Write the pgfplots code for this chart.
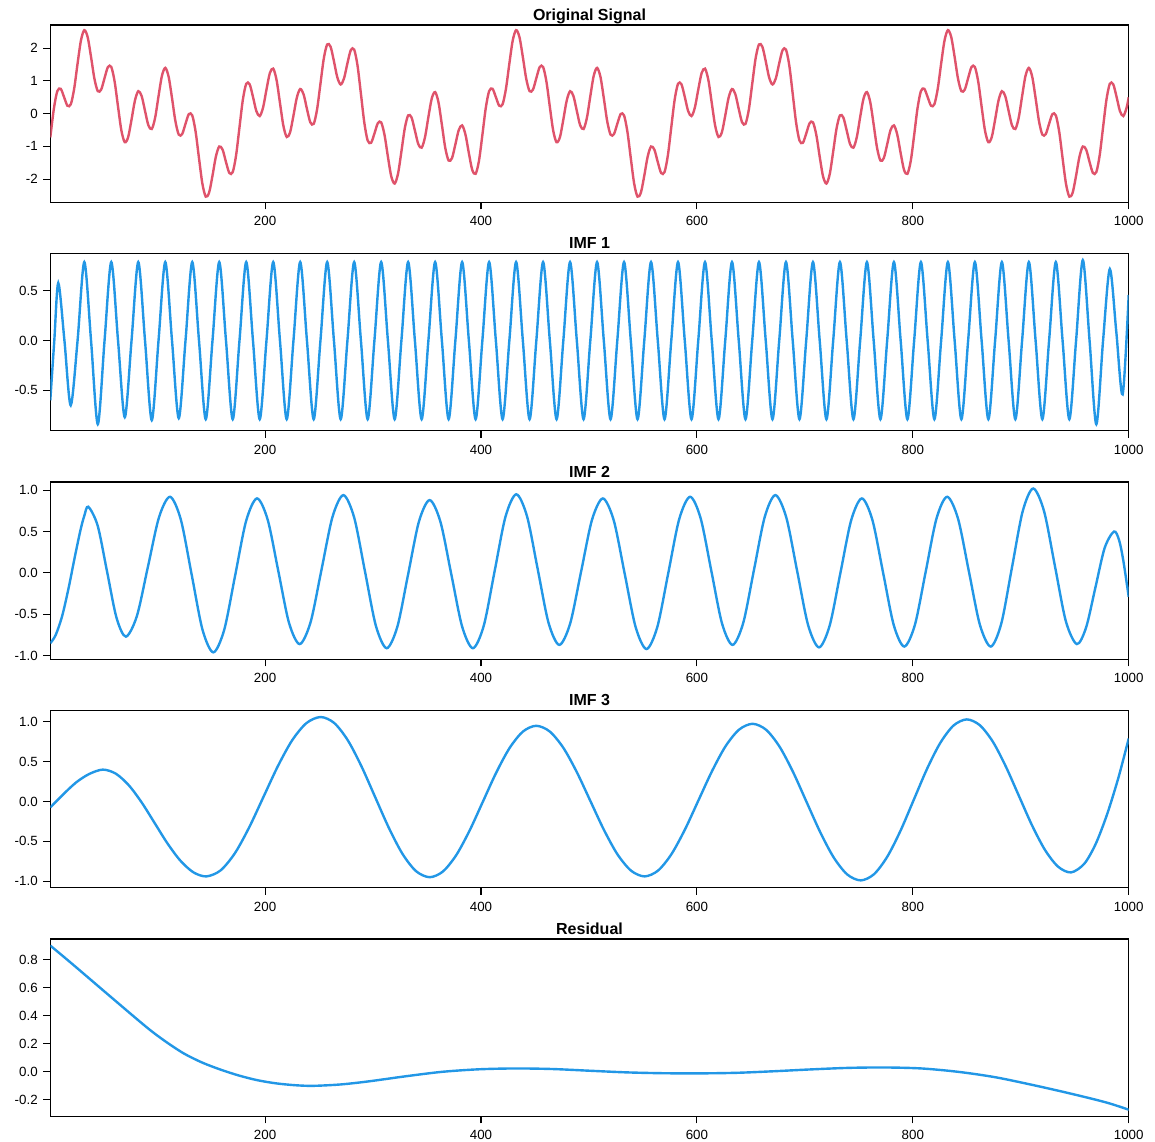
\documentclass[border=0pt]{standalone}
\usepackage{fontspec}
\setmainfont{Liberation Sans}
\usepackage{pgfplots}
\pgfplotsset{compat=1.18}
\definecolor{rred}{HTML}{DF536B}
\definecolor{rblue}{HTML}{2297E6}
\pgfplotsset{
  emd/.style={
    scale only axis, width=808.8pt, height=132.98pt,
    xmin=1, xmax=1000,
    axis line style={line width=0.8pt},
    every tick/.style={black, line width=0.8pt},
    major tick length=5.25pt,
    tick align=outside,
    xtick pos=bottom, ytick pos=left,
    xtick={200,400,600,800,1000},
    tick label style={font=\fontsize{10}{12}\selectfont, inner sep=0pt},
    xticklabel style={anchor=north, yshift=-5.25pt, /pgf/number format/set thousands separator={}},
    yticklabel style={anchor=east, xshift=-4pt},
    /pgf/number format/assume math mode=true,
    title style={font=\bfseries\fontsize{12}{14}\selectfont, at={(0.5,1)}, anchor=base, yshift=-2.5pt},
  },
  onedec/.style={yticklabel style={/pgf/number format/.cd, fixed, fixed zerofill, precision=1}},
}
\begin{document}
\begin{tikzpicture}
\path[use as bounding box] (0,0) rectangle (866.25pt,855.75pt);
% ---------------- Original Signal
\begin{axis}[emd, at={(37.725pt,704.0pt)}, ymin=-2.71, ymax=2.71, ytick={-2,-1,0,1,2}, title={Original Signal}]
\addplot[rred, line width=1.8pt, smooth, no markers] coordinates {
(1,-0.70) (1.25,-0.657) (4.375,0.167) (7.5,0.689) (10.625,0.762) (13.75,0.507) (16.875,0.243) (20,0.288) (23.125,0.765) (26.25,1.528) (29.375,2.236) (32.5,2.553) (35.625,2.339) (38.75,1.732) (41.875,1.069) (45,0.688) (48.125,0.735) (51.25,1.087) (54.375,1.425) (57.5,1.428) (60.625,0.975) (63.75,0.212) (66.875,-0.517) (70,-0.874) (73.125,-0.717) (76.25,-0.182) (79.375,0.398) (82.5,0.687) (85.625,0.539) (88.75,0.085) (91.875,-0.357) (95,-0.468) (98.125,-0.122) (101.25,0.532) (104.375,1.152) (107.5,1.399) (110.625,1.128) (113.75,0.477) (116.875,-0.225) (120,-0.640) (123.125,-0.626) (126.25,-0.310) (129.375,-0.012) (132.5,-0.053) (135.625,-0.553) (138.75,-1.362) (141.875,-2.138) (145,-2.536) (148.125,-2.411) (151.25,-1.895) (154.375,-1.315) (157.5,-1.004) (160.625,-1.102) (163.75,-1.479) (166.875,-1.814) (170,-1.785) (173.125,-1.270) (176.25,-0.418) (179.375,0.425) (182.5,0.913) (185.625,0.902) (188.75,0.515) (191.875,0.080) (195,-0.073) (198.125,0.189) (201.25,0.735) (204.375,1.239) (207.5,1.377) (210.625,1.026) (213.75,0.331) (216.875,-0.363) (220,-0.712) (223.125,-0.569) (226.25,-0.060) (229.375,0.490) (232.5,0.753) (235.625,0.593) (238.75,0.144) (241.875,-0.265) (245,-0.312) (248.125,0.129) (251.25,0.911) (254.375,1.689) (257.5,2.116) (260.625,2.047) (263.75,1.604) (266.875,1.111) (270,0.892) (273.125,1.081) (276.25,1.540) (279.375,1.942) (282.5,1.959) (285.625,1.465) (288.75,0.607) (291.875,-0.269) (295,-0.820) (298.125,-0.892) (301.25,-0.610) (304.375,-0.294) (307.5,-0.265) (310.625,-0.652) (313.75,-1.315) (316.875,-1.919) (320,-2.136) (323.125,-1.834) (326.25,-1.158) (329.375,-0.450) (332.5,-0.053) (335.625,-0.115) (338.75,-0.514) (341.875,-0.930) (345,-1.040) (348.125,-0.717) (351.25,-0.103) (354.375,0.465) (357.5,0.660) (360.625,0.344) (363.75,-0.337) (366.875,-1.044) (370,-1.433) (373.125,-1.358) (376.25,-0.940) (379.375,-0.501) (382.5,-0.359) (385.625,-0.642) (388.75,-1.207) (391.875,-1.718) (395,-1.839) (398.125,-1.439)
(401.25,-0.657) (404.375,0.167) (407.5,0.689) (410.625,0.762) (413.75,0.507) (416.875,0.243) (420,0.288) (423.125,0.765) (426.25,1.528) (429.375,2.236) (432.5,2.553) (435.625,2.339) (438.75,1.732) (441.875,1.069) (445,0.688) (448.125,0.735) (451.25,1.087) (454.375,1.425) (457.5,1.428) (460.625,0.975) (463.75,0.212) (466.875,-0.517) (470,-0.874) (473.125,-0.717) (476.25,-0.182) (479.375,0.398) (482.5,0.687) (485.625,0.539) (488.75,0.085) (491.875,-0.357) (495,-0.468) (498.125,-0.122) (501.25,0.532) (504.375,1.152) (507.5,1.399) (510.625,1.128) (513.75,0.477) (516.875,-0.225) (520,-0.640) (523.125,-0.626) (526.25,-0.310) (529.375,-0.012) (532.5,-0.053) (535.625,-0.553) (538.75,-1.362) (541.875,-2.138) (545,-2.536) (548.125,-2.411) (551.25,-1.895) (554.375,-1.315) (557.5,-1.004) (560.625,-1.102) (563.75,-1.479) (566.875,-1.814) (570,-1.785) (573.125,-1.270) (576.25,-0.418) (579.375,0.425) (582.5,0.913) (585.625,0.902) (588.75,0.515) (591.875,0.080) (595,-0.073) (598.125,0.189) (601.25,0.735) (604.375,1.239) (607.5,1.377) (610.625,1.026) (613.75,0.331) (616.875,-0.363) (620,-0.712) (623.125,-0.569) (626.25,-0.060) (629.375,0.490) (632.5,0.753) (635.625,0.593) (638.75,0.144) (641.875,-0.265) (645,-0.312) (648.125,0.129) (651.25,0.911) (654.375,1.689) (657.5,2.116) (660.625,2.047) (663.75,1.604) (666.875,1.111) (670,0.892) (673.125,1.081) (676.25,1.540) (679.375,1.942) (682.5,1.959) (685.625,1.465) (688.75,0.607) (691.875,-0.269) (695,-0.820) (698.125,-0.892) (701.25,-0.610) (704.375,-0.294) (707.5,-0.265) (710.625,-0.652) (713.75,-1.315) (716.875,-1.919) (720,-2.136) (723.125,-1.834) (726.25,-1.158) (729.375,-0.450) (732.5,-0.053) (735.625,-0.115) (738.75,-0.514) (741.875,-0.930) (745,-1.040) (748.125,-0.717) (751.25,-0.103) (754.375,0.465) (757.5,0.660) (760.625,0.344) (763.75,-0.337) (766.875,-1.044) (770,-1.433) (773.125,-1.358) (776.25,-0.940) (779.375,-0.501) (782.5,-0.359) (785.625,-0.642) (788.75,-1.207) (791.875,-1.718) (795,-1.839) (798.125,-1.439)
(801.25,-0.657) (804.375,0.167) (807.5,0.689) (810.625,0.762) (813.75,0.507) (816.875,0.243) (820,0.288) (823.125,0.765) (826.25,1.528) (829.375,2.236) (832.5,2.553) (835.625,2.339) (838.75,1.732) (841.875,1.069) (845,0.688) (848.125,0.735) (851.25,1.087) (854.375,1.425) (857.5,1.428) (860.625,0.975) (863.75,0.212) (866.875,-0.517) (870,-0.874) (873.125,-0.717) (876.25,-0.182) (879.375,0.398) (882.5,0.687) (885.625,0.539) (888.75,0.085) (891.875,-0.357) (895,-0.468) (898.125,-0.122) (901.25,0.532) (904.375,1.152) (907.5,1.399) (910.625,1.128) (913.75,0.477) (916.875,-0.225) (920,-0.640) (923.125,-0.626) (926.25,-0.310) (929.375,-0.012) (932.5,-0.053) (935.625,-0.553) (938.75,-1.362) (941.875,-2.138) (945,-2.536) (948.125,-2.411) (951.25,-1.895) (954.375,-1.315) (957.5,-1.004) (960.625,-1.102) (963.75,-1.479) (966.875,-1.814) (970,-1.785) (973.125,-1.270) (976.25,-0.418) (979.375,0.425) (982.5,0.913) (985.625,0.902) (988.75,0.515) (991.875,0.080) (995,-0.073) (998.125,0.189) (1000,0.50)
};
\end{axis}
% ---------------- IMF 1
\begin{axis}[emd, onedec, at={(37.725pt,532.65pt)}, ymin=-0.906, ymax=0.876, ytick={-0.5,0,0.5}, title={IMF 1}]
\addplot[rblue, line width=1.8pt, smooth, no markers] coordinates {
(1,-0.60) (4.7,0) (8.4,0.58) (14.1,0) (19.9,-0.65)
(26.25,0) (32.5,0.79) (38.75,0) (45,-0.84)
(51.25,0) (57.5,0.79) (63.75,0) (70,-0.77)
(76.25,0) (82.5,0.79) (88.75,0) (95,-0.80)
(101.25,0) (107.5,0.79) (113.75,0) (120,-0.78)
(126.25,0) (132.5,0.79) (138.75,0) (145,-0.79)
(151.25,0) (157.5,0.79) (163.75,0) (170,-0.79)
(176.25,0) (182.5,0.79) (188.75,0) (195,-0.79)
(201.25,0) (207.5,0.79) (213.75,0) (220,-0.79)
(226.25,0) (232.5,0.79) (238.75,0) (245,-0.79)
(251.25,0) (257.5,0.79) (263.75,0) (270,-0.79)
(276.25,0) (282.5,0.79) (288.75,0) (295,-0.79)
(301.25,0) (307.5,0.79) (313.75,0) (320,-0.79)
(326.25,0) (332.5,0.79) (338.75,0) (345,-0.79)
(351.25,0) (357.5,0.79) (363.75,0) (370,-0.79)
(376.25,0) (382.5,0.79) (388.75,0) (395,-0.79)
(401.25,0) (407.5,0.79) (413.75,0) (420,-0.79)
(426.25,0) (432.5,0.79) (438.75,0) (445,-0.79)
(451.25,0) (457.5,0.79) (463.75,0) (470,-0.79)
(476.25,0) (482.5,0.79) (488.75,0) (495,-0.79)
(501.25,0) (507.5,0.79) (513.75,0) (520,-0.79)
(526.25,0) (532.5,0.79) (538.75,0) (545,-0.79)
(551.25,0) (557.5,0.79) (563.75,0) (570,-0.79)
(576.25,0) (582.5,0.79) (588.75,0) (595,-0.79)
(601.25,0) (607.5,0.79) (613.75,0) (620,-0.79)
(626.25,0) (632.5,0.79) (638.75,0) (645,-0.79)
(651.25,0) (657.5,0.79) (663.75,0) (670,-0.79)
(676.25,0) (682.5,0.79) (688.75,0) (695,-0.79)
(701.25,0) (707.5,0.79) (713.75,0) (720,-0.79)
(726.25,0) (732.5,0.79) (738.75,0) (745,-0.79)
(751.25,0) (757.5,0.79) (763.75,0) (770,-0.79)
(776.25,0) (782.5,0.79) (788.75,0) (795,-0.79)
(801.25,0) (807.5,0.79) (813.75,0) (820,-0.79)
(826.25,0) (832.5,0.79) (838.75,0) (845,-0.79)
(851.25,0) (857.5,0.79) (863.75,0) (870,-0.79)
(876.25,0) (882.5,0.79) (888.75,0) (895,-0.79)
(901.25,0) (907.5,0.79) (913.75,0) (920,-0.79)
(926.25,0) (932.5,0.79) (938.75,0) (945,-0.79)
(951.25,0) (957.5,0.81) (963.75,0) (970,-0.84)
(976.25,0) (982.5,0.72) (988.5,0.09) (994.4,-0.54) (1000,0.46)
};
\end{axis}
% ---------------- IMF 2
\begin{axis}[emd, onedec, at={(37.725pt,361.28pt)}, ymin=-1.044, ymax=1.099, ytick={-1,-0.5,0,0.5,1}, title={IMF 2}]
\addplot[rblue, line width=1.8pt, smooth, no markers] coordinates {
(1,-0.85) (6,-0.75) (12,-0.52) (18,-0.18) (23.5,0.18) (29,0.52) (32.5,0.69) (36.2,0.80)
(44.9,0.570) (53.6,0.015) (62.3,-0.540) (71,-0.77)
(81.2,-0.522) (91.45,0.075) (101.7,0.672) (111.9,0.92)
(121.9,0.645) (131.95,-0.02) (141.97,-0.685) (152,-0.96)
(162.1,-0.688) (172.25,-0.03) (182.4,0.628) (192.5,0.90)
(202.4,0.642) (212.25,0.02) (222.1,-0.602) (232,-0.86)
(242.1,-0.596) (252.25,0.04) (262.4,0.676) (272.5,0.94)
(282.5,0.669) (292.55,0.015) (302.6,-0.639) (312.6,-0.91)
(322.55,-0.648) (332.5,-0.015) (342.45,0.618) (352.4,0.88)
(362.4,0.618) (372.45,-0.015) (382.5,-0.648) (392.5,-0.91)
(402.55,-0.638) (412.6,0.02) (422.65,0.678) (432.7,0.95)
(442.65,0.683) (452.6,0.04) (462.55,-0.603) (472.5,-0.87)
(482.6,-0.611) (492.7,0.015) (502.8,0.641) (512.9,0.90)
(523,0.633) (533.1,-0.01) (543.2,-0.653) (553.3,-0.92)
(563.4,-0.650) (573.5,0) (583.6,0.650) (593.7,0.92)
(603.5,0.658) (613.35,0.025) (623.2,-0.608) (633,-0.87)
(642.9,-0.605) (652.85,0.035) (662.8,0.675) (672.7,0.94)
(682.8,0.670) (692.9,0.02) (703,-0.630) (713.1,-0.90)
(723,-0.636) (732.95,0) (742.9,0.636) (752.8,0.90)
(762.6,0.638) (772.45,0.005) (782.3,-0.628) (792.1,-0.89)
(802,-0.625) (811.95,0.015) (821.9,0.655) (831.8,0.92)
(841.9,0.655) (852,0.015) (862.1,-0.625) (872.2,-0.89)
(882,-0.610) (891.85,0.065) (901.7,0.740) (911.5,1.02)
(921.6,0.745) (931.7,0.08) (941.8,-0.585) (951.9,-0.86)
(960.5,-0.661) (969.1,-0.18) (977.7,0.301) (986.3,0.50)
(991,0.40) (995,0.15) (1000,-0.29)
};
\end{axis}
% ---------------- IMF 3
\begin{axis}[emd, onedec, at={(37.725pt,189.9pt)}, ymin=-1.083, ymax=1.142, ytick={-1,-0.5,0,0.5,1}, title={IMF 3}]
\addplot[rblue, line width=1.8pt, smooth, no markers] coordinates {
(1,-0.075) (13,0.09) (25,0.24) (37,0.345) (49.7,0.40)
(61.7,0.349) (73.7,0.204) (85.7,-0.013) (97.65,-0.27) (109.6,-0.527) (121.6,-0.744) (133.6,-0.889) (145.6,-0.94)
(158.8,-0.864) (172.1,-0.647) (185.3,-0.323) (198.55,0.06) (211.8,0.443) (225,0.767) (238.3,0.984) (251.5,1.06)
(264.1,0.984) (276.7,0.766) (289.3,0.440) (301.95,0.055) (314.6,-0.330) (327.2,-0.656) (339.8,-0.874) (352.4,-0.95)
(364.75,-0.878) (377.1,-0.672) (389.45,-0.364) (401.8,0) (414.15,0.364) (426.5,0.672) (438.85,0.878) (451.2,0.95)
(463.7,0.878) (476.3,0.673) (488.8,0.367) (501.35,0.005) (513.9,-0.357) (526.4,-0.663) (539,-0.868) (551.5,-0.94)
(564,-0.867) (576.5,-0.659) (589,-0.349) (601.55,0.018) (614.1,0.384) (626.6,0.695) (639.1,0.902) (651.6,0.975)
(664.1,0.900) (676.6,0.687) (689.1,0.369) (701.65,-0.008) (714.2,-0.384) (726.7,-0.702) (739.2,-0.915) (751.7,-0.99)
(764,-0.913) (776.3,-0.694) (788.6,-0.367) (800.85,0.02) (813.1,0.407) (825.4,0.734) (837.7,0.953) (850,1.03)
(862.1,0.957) (874.2,0.749) (886.2,0.438) (898.3,0.07) (910.4,-0.298) (922.5,-0.609) (934.5,-0.817) (946.6,-0.89)
(958.9,-0.78) (969.5,-0.53) (980,-0.16) (990.5,0.30) (1000,0.79)
};
\end{axis}
% ---------------- Residual
\begin{axis}[emd, onedec, at={(37.725pt,18.53pt)}, ymin=-0.317, ymax=0.947, ytick={-0.2,0,0.2,0.4,0.6,0.8}, title={Residual}]
\addplot[rblue, line width=1.8pt, smooth, no markers] coordinates {
(1,0.90) (22.4,0.762) (56.6,0.537) (90.7,0.315) (108,0.215) (124.9,0.13) (142,0.065) (159,0.015) (176,-0.027) (193,-0.06) (210,-0.082) (227,-0.095) (244,-0.10) (270,-0.09) (296,-0.068) (330,-0.032) (364,0.0) (398,0.018) (432,0.024) (466,0.02) (500,0.008) (535,-0.004) (569,-0.01) (603,-0.011) (637,-0.007) (671,0.004) (705,0.017) (740,0.028) (774,0.031) (808,0.024) (842,0.0) (876,-0.038) (910,-0.092) (945,-0.153) (979,-0.218) (1000,-0.27)
};
\end{axis}
\end{tikzpicture}
\end{document}
